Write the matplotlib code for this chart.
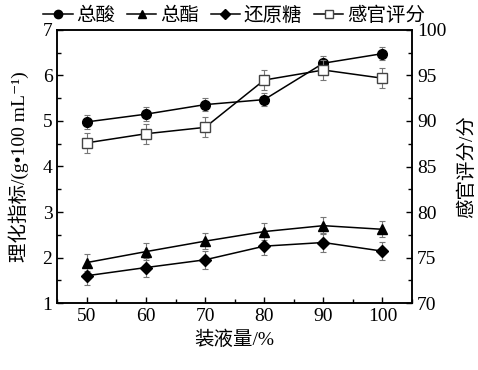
import numpy as np
import matplotlib.pyplot as plt
from matplotlib.ticker import MultipleLocator
from matplotlib.lines import Line2D

plt.rcParams['font.family'] = ['Liberation Serif', 'Noto Sans CJK SC', 'DejaVu Serif']

volume = [50, 60, 70, 80, 90, 100]
acid = [4.98, 5.15, 5.36, 5.47, 6.27, 6.48]
acid_err = [0.15, 0.15, 0.14, 0.15, 0.15, 0.15]
ester = [1.89, 2.13, 2.36, 2.57, 2.70, 2.62]
ester_err = [0.18, 0.18, 0.18, 0.18, 0.18, 0.18]
sugar = [1.60, 1.78, 1.95, 2.25, 2.33, 2.14]
sugar_err = [0.2, 0.2, 0.2, 0.2, 0.2, 0.2]
sensory = [87.6, 88.6, 89.3, 94.5, 95.6, 94.7]
sensory_err = [1.1, 1.1, 1.1, 1.1, 1.1, 1.1]

fig, ax = plt.subplots(figsize=(4.78, 3.7), dpi=100)
fig.subplots_adjust(left=0.12, right=0.862, top=0.919, bottom=0.181)
ax2 = ax.twinx()

eb = dict(ecolor='#777777', elinewidth=0.8, capsize=2.5, capthick=0.8, color='black', lw=1.1)
ax.errorbar(volume, acid, yerr=acid_err, marker='o', ms=7, **eb)
ax.errorbar(volume, ester, yerr=ester_err, marker='^', ms=7, **eb)
ax.errorbar(volume, sugar, yerr=sugar_err, marker='D', ms=6, **eb)
ax2.errorbar(volume, sensory, yerr=sensory_err, marker='s', ms=6.5, mfc='white', mec='#444444', **eb)

ax.set_xlim(45, 105)
ax.set_ylim(1, 7)
ax2.set_ylim(70, 100)
ax.set_xticks(volume)
ax.xaxis.set_minor_locator(MultipleLocator(5))
ax.yaxis.set_minor_locator(MultipleLocator(0.5))
ax2.yaxis.set_minor_locator(MultipleLocator(2.5))

for a in (ax, ax2):
    a.tick_params(which='both', direction='in', labelsize=14, length=4, width=1)
    a.tick_params(which='minor', length=3)
    for s in a.spines.values():
        s.set_linewidth(1.1)

ax.set_xlabel('装液量/%', fontsize=14)
ax.set_ylabel('理化指标/(g•100 mL⁻¹)', fontsize=14, labelpad=10)
ax2.set_ylabel('感官评分/分', fontsize=14, labelpad=8)

handles = [
    Line2D([], [], color='black', lw=1.1, marker='o', ms=6),
    Line2D([], [], color='black', lw=1.1, marker='^', ms=6),
    Line2D([], [], color='black', lw=1.1, marker='D', ms=5),
    Line2D([], [], color='black', lw=1.1, marker='s', ms=5.5, mfc='white', mec='#444444'),
]
labels = ['总酸', '总酯', '还原糖', '感官评分']
fig.legend(handles, labels, ncol=4, loc='upper center', bbox_to_anchor=(0.49, 1.02),
           frameon=False, fontsize=14, handlelength=1.5, handletextpad=0.2,
           columnspacing=0.6, borderpad=0.2)

fig.savefig('out.png')
